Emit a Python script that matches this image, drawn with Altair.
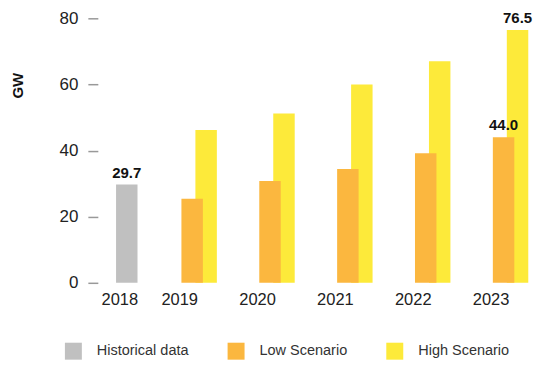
import altair as alt
import pandas as pd

years = ["2018", "2019", "2020", "2021", "2022", "2023"]
series_names = ["Historical data", "Low Scenario", "High Scenario"]
series_colors = ["#C0C0C0", "#FBB73F", "#FDEA3A"]

hist_years = ["2018"]
hist_vals = [29.7]
scen_years = ["2019", "2020", "2021", "2022", "2023"]
low_vals = [25.4, 30.8, 34.4, 39.2, 44.0]
high_vals = [46.2, 51.2, 60.0, 67.0, 76.5]

labelled = [("Historical data", "2018"), ("Low Scenario", "2023"), ("High Scenario", "2023")]

rows = []
for y, v in zip(hist_years, hist_vals):
    rows.append({"year": y, "series": "Historical data", "value": v})
for y, v in zip(scen_years, low_vals):
    rows.append({"year": y, "series": "Low Scenario", "value": v})
for y, v in zip(scen_years, high_vals):
    rows.append({"year": y, "series": "High Scenario", "value": v})
df = pd.DataFrame(rows)
df["label"] = [f"{v:.1f}" if (s, y) in labelled else "" for s, y, v in zip(df["series"], df["year"], df["value"])]

FONT = "Liberation Sans"

x = alt.X(
    "year:N",
    sort=years,
    scale=alt.Scale(domain=years, paddingInner=0, paddingOuter=0),
    axis=alt.Axis(
        title=None, ticks=False, domain=False, labelAngle=0,
        labelFontSize=16.5, labelColor="#222", labelPadding=9, labelFont=FONT,
        labelOffset={"condition": {"test": "datum.value == '2018'", "value": 14}, "value": -4},
    ),
)
y = alt.Y(
    "value:Q",
    scale=alt.Scale(domain=[0, 80], nice=False),
    axis=alt.Axis(
        title="GW", values=[0, 20, 40, 60, 80], grid=False, domain=False,
        offset=-31, tickSize=10, tickColor="#999", tickWidth=1.5,
        labelFontSize=17, labelColor="#222", labelPadding=10, labelFont=FONT,
        titleFont=FONT, titleFontSize=15, titleFontWeight="bold", titleColor="#111",
        titleAngle=-90, titleX=-80, titleY=67, titleAlign="center", titleBaseline="middle",
    ),
)
color = alt.Color(
    "series:N",
    scale=alt.Scale(domain=series_names, range=series_colors),
    legend=alt.Legend(
        title=None, orient="none", direction="horizontal", legendX=-2, legendY=325,
        symbolType="square", symbolSize=289, symbolStrokeWidth=0, symbolOpacity=1,
        labelFontSize=14.5, labelColor="#333", labelFont=FONT, labelOffset=15,
        columnPadding=39,
    ),
)

base = alt.Chart(df)

offsets = {"Historical data": 21, "Low Scenario": 8.5, "High Scenario": 22.5}
draw_order = ["Historical data", "High Scenario", "Low Scenario"]

layers = []
for s in draw_order:
    layers.append(
        base.transform_filter(alt.datum.series == s)
        .mark_bar(size=21.5, xOffset=offsets[s])
        .encode(x=x, y=y, color=color)
    )
for s in draw_order:
    layers.append(
        base.transform_filter((alt.datum.series == s) & (alt.datum.label != ""))
        .mark_text(xOffset=offsets[s], dy=-7, baseline="alphabetic", fontSize=15,
                   fontWeight="bold", font=FONT, color="#111")
        .encode(x=x, y=y, text="label:N")
    )

chart = (
    alt.layer(*layers)
    .properties(
        width=468, height=265,
        autosize=alt.AutoSizeParams(type="none"),
        padding={"left": 59, "top": 10, "right": 8, "bottom": 80},
    )
    .configure_view(stroke=None)
)

chart.save("out.html", embed_options={"renderer": "svg", "actions": False})
